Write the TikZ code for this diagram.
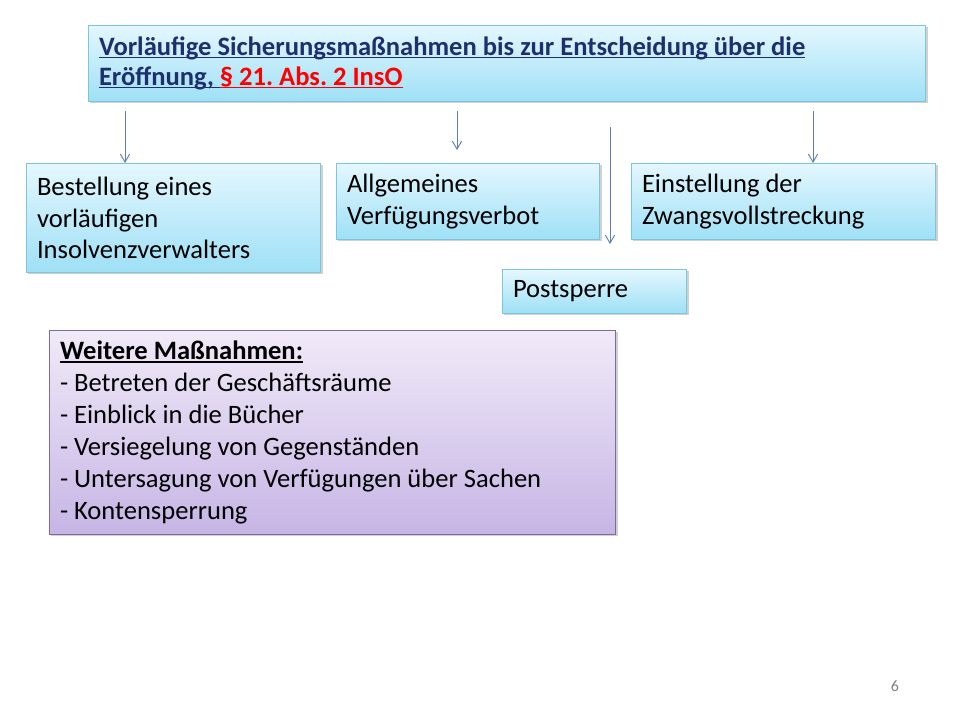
\documentclass[tikz,border=0pt]{standalone}
\usepackage{fontspec}
\setmainfont{Carlito}
\usetikzlibrary{arrows.meta,shadows}
\newcommand{\unterstr}[1]{\leavevmode\setbox0\hbox{#1}\rlap{\rule[-2.2pt]{\wd0}{1.2pt}}\box0}
\definecolor{titleblue}{HTML}{1F2F6E}
\definecolor{cyantop}{HTML}{E4F7FE}
\definecolor{cyanbot}{HTML}{9EE0F6}
\definecolor{cyanline}{HTML}{7CC6DC}
\definecolor{lilatop}{HTML}{F1EAF8}
\definecolor{lilabot}{HTML}{C6B5E5}
\definecolor{lilaline}{HTML}{7F6A9E}
\definecolor{arrowblue}{HTML}{5A7FB0}
\frenchspacing
\begin{document}
\begin{tikzpicture}[x=0.7528pt,y=-0.7528pt,
  cbox/.style={draw=cyanline,line width=0.6pt,top color=cyantop,bottom color=cyanbot,
    anchor=north west,align=left,inner xsep=8pt,inner ysep=2pt,
    drop shadow={shadow xshift=1.5pt,shadow yshift=-1.5pt,opacity=0.3,fill=black!60},
    execute at begin node={\spaceskip=0.226em plus 0.1em\xspaceskip=\spaceskip},
    font=\fontsize{20}{24}\selectfont},
  lbox/.style={cbox,draw=lilaline,top color=lilatop,bottom color=lilabot},
  pfeil/.style={draw=arrowblue,line width=0.7pt,-{Straight Barb[length=6pt,width=7pt]}}]
\useasboundingbox (0,0) rectangle (960,720);

\node[cbox,minimum width=629.3pt,minimum height=57.2pt,text width=614.3pt,
  font=\fontsize{20}{22.5}\selectfont\bfseries,text=titleblue] (top) at (88,25)
  {\unterstr{Vorläufige Sicherungsmaßnahmen bis zur Entscheidung über die}\\
   \unterstr{Eröffnung,\ }{\color{red}\unterstr{§ 21. Abs. 2 InsO}}};

\node[cbox,minimum width=220.6pt,minimum height=82.1pt,text width=205.5pt] (best) at (26,163)
  {Bestellung eines\\vorläufigen\\Insolvenzverwalters};
\node[cbox,minimum width=197.2pt,minimum height=57.2pt,text width=182.2pt] (allg) at (336,163)
  {Allgemeines\\Verfügungsverbot};
\node[cbox,minimum width=228.1pt,minimum height=57.2pt,text width=213.0pt] (einst) at (631,163)
  {Einstellung der\\Zwangsvollstreckung};
\node[cbox,minimum width=137.8pt,minimum height=33.1pt,text width=122.7pt] (post) at (502,269)
  {Postsperre};

\node[lbox,minimum width=425.3pt,minimum height=153.6pt,text width=410.3pt] (weit) at (49,330)
  {\textbf{\unterstr{Weitere Maßnahmen:}}\\
   - Betreten der Geschäftsräume\\
   - Einblick in die Bücher\\
   - Versiegelung von Gegenständen\\
   - Untersagung von Verfügungen über Sachen\\
   - Kontensperrung};

% Pfeile
\coordinate (a1) at (125,111);
\coordinate (a2) at (457,111);
\coordinate (a3) at (610,127);
\coordinate (a4) at (813,111);
\coordinate (e2) at (457,150);
\coordinate (e3) at (610,244);
\draw[pfeil] (a1) -- (a1 |- best.north);
\draw[pfeil] (a2) -- (e2);
\draw[pfeil] (a3) -- (e3);
\draw[pfeil] (a4) -- (a4 |- einst.north);

\node[text=gray,font=\fontsize{12}{14}\selectfont] (seite) at (895,686) {6};
\end{tikzpicture}
\end{document}
